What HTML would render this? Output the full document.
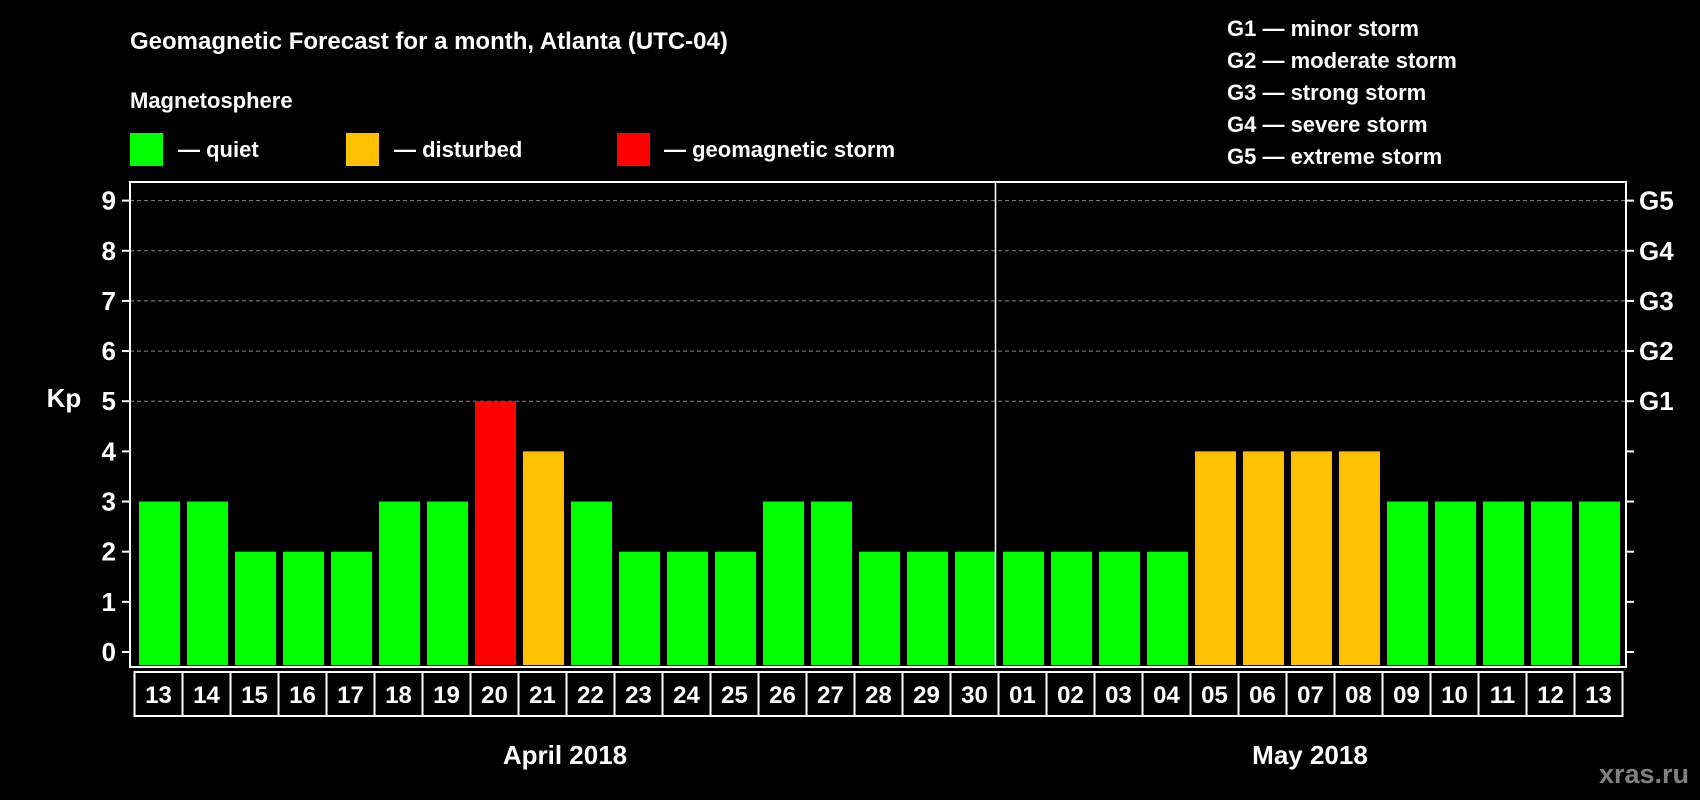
<!DOCTYPE html>
<html><head><meta charset="utf-8"><style>
html,body{margin:0;padding:0;background:#000;}
svg{display:block;font-family:"Liberation Sans",Arial,sans-serif;font-weight:bold;}
</style></head><body>
<svg id="c" width="1700" height="800" viewBox="0 0 1700 800">
<text x="130" y="49" fill="#fff" font-size="24">Geomagnetic Forecast for a month, Atlanta (UTC-04)</text>
<text x="130" y="108" fill="#fff" font-size="22">Magnetosphere</text>
<g><rect x="130" y="133" width="33" height="33" fill="#00ff00"/><text x="178" y="157" fill="#fff" font-size="22">— quiet</text></g>
<g><rect x="346" y="133" width="33" height="33" fill="#ffc000"/><text x="394" y="157" fill="#fff" font-size="22">— disturbed</text></g>
<g><rect x="617" y="133" width="33" height="33" fill="#ff0000"/><text x="664" y="157" fill="#fff" font-size="22">— geomagnetic storm</text></g>
<g fill="#fff" font-size="22">
<text x="1227" y="36">G1 — minor storm</text>
<text x="1227" y="68">G2 — moderate storm</text>
<text x="1227" y="100">G3 — strong storm</text>
<text x="1227" y="132">G4 — severe storm</text>
<text x="1227" y="164">G5 — extreme storm</text>
</g>
<text x="64" y="407" fill="#fff" font-size="26" text-anchor="middle">Kp</text>
<text x="565" y="764" fill="#fff" font-size="26" text-anchor="middle">April 2018</text>
<text x="1310" y="764" fill="#fff" font-size="26" text-anchor="middle">May 2018</text>
<text x="1689" y="783" fill="#808080" font-size="27" text-anchor="end">xras.ru</text>
<g id="grid"></g><g id="bars"></g><g id="axes"></g><g id="dates"></g>
</svg>
<script>
const days=["13","14","15","16","17","18","19","20","21","22","23","24","25","26","27","28","29","30","01","02","03","04","05","06","07","08","09","10","11","12","13"];
const kp=[3,3,2,2,2,3,3,5,4,3,2,2,2,3,3,2,2,2,2,2,2,2,4,4,4,4,3,3,3,3,3];
const yTicks=[0,1,2,3,4,5,6,7,8,9];
const gLabels=["G1","G2","G3","G4","G5"];
const gLevels=[5,6,7,8,9];
const NS="http://www.w3.org/2000/svg";
const L=130,R=1626,T=182,B=667,X0=135.5,BAND=48;
const y=v=>652-v*(652-200.6)/9;
const x=i=>X0+i*BAND;
function mk(p,tag,a){const e=document.createElementNS(NS,tag);for(const k in a)e.setAttribute(k,a[k]);document.getElementById(p).appendChild(e);return e;}
yTicks.forEach(v=>{
  if(v>=5){const g=mk('grid','line',{x1:L,x2:R,y1:y(v),y2:y(v),stroke:'#888','stroke-dasharray':'4,3','stroke-width':1});
  
  }
  const t=mk('axes','line',{x1:L-8,x2:L,y1:y(v),y2:y(v),stroke:'#fff','stroke-width':2});
  
  
  const t2=mk('axes','line',{x1:R,x2:R+8,y1:y(v),y2:y(v),stroke:'#fff','stroke-width':2});
  
  
  const lb=mk('axes','text',{x:L-14,y:y(v)+9,fill:'#fff','font-size':26,'text-anchor':'end'});
  lb.textContent=v;
  
  
});
gLabels.forEach((g,i)=>{
  const lb=mk('axes','text',{x:R+13,y:y(gLevels[i])+9,fill:'#fff','font-size':26});
  lb.textContent=g;
  
  
});
kp.forEach((v,i)=>{
  const col=v>=5?'#ff0000':(v>=4?'#ffc000':'#00ff00');
  const b=mk('bars','rect',{x:x(i)+3.5,y:y(v),width:41,height:y(0)-y(v)+13,fill:col});
  
  
  const c=mk('dates','rect',{x:x(i)-1,y:672,width:BAND,height:44,fill:'none',stroke:'#fff','stroke-width':2});
  
  
  const t=mk('dates','text',{x:x(i)+23,y:703,fill:'#fff','font-size':24,'text-anchor':'middle'});
  t.textContent=days[i];
  
  
});
const f=mk('axes','rect',{x:L,y:T,width:R-L,height:B-T,fill:'none',stroke:'#fff','stroke-width':2});


const dv=mk('axes','line',{x1:x(18)-4,x2:x(18)-4,y1:T,y2:B,stroke:'#fff','stroke-width':1.5});


</script>
</body></html>
